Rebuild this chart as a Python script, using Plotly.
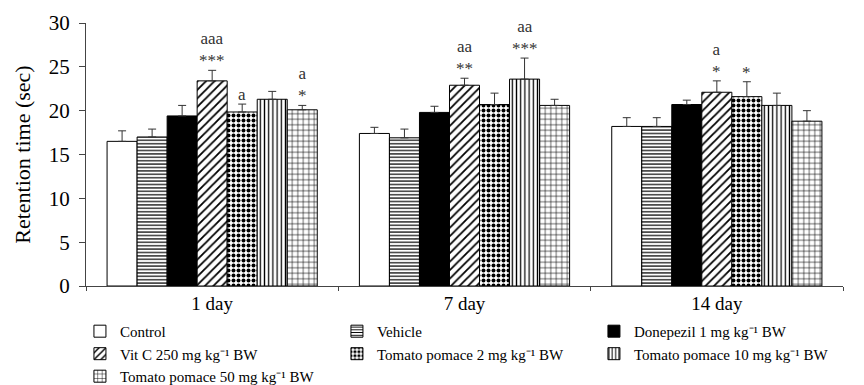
import plotly.graph_objects as go

days = ["1 day", "7 day", "14 day"]
groups = [
    "Control",
    "Vehicle",
    "Donepezil 1 mg kg⁻¹ BW",
    "Vit C 250 mg kg⁻¹ BW",
    "Tomato pomace 2 mg kg⁻¹ BW",
    "Tomato pomace 10 mg kg⁻¹ BW",
    "Tomato pomace 50 mg kg⁻¹ BW",
]
control = [16.5, 17.4, 18.2]
vehicle = [17.0, 16.9, 18.2]
donepezil = [19.4, 19.8, 20.7]
vitc = [23.4, 22.9, 22.1]
tp2 = [19.85, 20.7, 21.6]
tp10 = [21.3, 23.6, 20.6]
tp50 = [20.1, 20.6, 18.8]

control_sd = [1.2, 0.7, 1.0]
vehicle_sd = [0.9, 1.0, 1.0]
donepezil_sd = [1.2, 0.7, 0.5]
vitc_sd = [1.2, 0.8, 1.3]
tp2_sd = [0.9, 1.3, 1.7]
tp10_sd = [0.9, 2.4, 1.4]
tp50_sd = [0.5, 0.7, 1.2]

# significance labels (letters, stars) per group per day
vitc_sig = [("aaa", "***"), ("aa", "**"), ("a", "*")]
tp2_sig = [("a", ""), ("", ""), ("", "*")]
tp10_sig = [("", ""), ("aa", "***"), ("", "")]
tp50_sig = [("a", "*"), ("", ""), ("", "")]

means = [control, vehicle, donepezil, vitc, tp2, tp10, tp50]
sds = [control_sd, vehicle_sd, donepezil_sd, vitc_sd, tp2_sd, tp10_sd, tp50_sd]
sigs = {3: vitc_sig, 4: tp2_sig, 5: tp10_sig, 6: tp50_sig}

styles = [
    dict(color="white", pattern=None),
    dict(color="white", pattern=dict(shape="-", size=3.4, solidity=0.35)),
    dict(color="black", pattern=None),
    dict(color="white", pattern=dict(shape="/", size=6, solidity=0.3)),
    dict(color="white", pattern=dict(shape=".", size=5, solidity=0.5)),
    dict(color="white", pattern=dict(shape="|", size=4.2, solidity=0.3)),
    dict(color="white", pattern=dict(shape="+", size=5.5, solidity=0.2)),
]

font_family = "Liberation Serif, Times New Roman, serif"
fig = go.Figure()
for i, name in enumerate(groups):
    st = styles[i]
    marker = dict(color=st["color"], line=dict(color="black", width=1))
    if st["pattern"]:
        marker["pattern"] = dict(fgcolor="black", bgcolor="white", fillmode="replace", **st["pattern"])
    fig.add_trace(go.Bar(
        x=days, y=means[i], name=name, marker=marker,
        error_y=dict(type="data", symmetric=False, array=sds[i], arrayminus=[0, 0, 0],
                     color="#333", thickness=1, width=4),
    ))

bargap = 0.167
n = len(groups)
bw = (1 - bargap) / n
for gi, sig in sigs.items():
    for d in range(len(days)):
        letters, stars = sig[d]
        parts = [p for p in (letters, stars) if p]
        if not parts:
            continue
        xpos = d - (1 - bargap) / 2 + (gi + 0.5) * bw
        fig.add_annotation(
            x=xpos, y=means[gi][d] + sds[gi][d], xref="x", yref="y",
            text="<br>".join(parts), showarrow=False, yanchor="bottom",
            font=dict(family=font_family, size=17, color="#333"), yshift=-2,
        )

# the page body adds an 8px offset; size the figure to fit the window
fig.update_layout(
    width=856, height=377,
    margin=dict(l=78, r=21, t=15, b=99, autoexpand=False),
    paper_bgcolor="white", plot_bgcolor="white",
    barmode="group", bargap=bargap, bargroupgap=0,
    font=dict(family=font_family, color="black"),
    showlegend=True,
    legend=dict(orientation="h", x=-0.008, y=-0.11, xanchor="left", yanchor="top",
                entrywidth=212, entrywidthmode="pixels",
                font=dict(size=15, family=font_family), itemwidth=30,
                tracegroupgap=0, traceorder="normal"),
)
fig.update_yaxes(
    range=[0, 30], dtick=5, showgrid=False, zeroline=False,
    showline=True, linecolor="#444", linewidth=1,
    ticks="outside", ticklen=6, tickcolor="#444", ticklabelstandoff=5,
    tickfont=dict(size=21, family=font_family),
    title=dict(text="Retention time (sec)", font=dict(size=22, family=font_family), standoff=12),
)
fig.update_xaxes(
    showgrid=False, showline=True, linecolor="#444", linewidth=1,
    ticks="outside", tickson="boundaries", ticklen=4, tickcolor="#444",
    tickfont=dict(size=19, family=font_family),
)
fig.write_html("out.html")
